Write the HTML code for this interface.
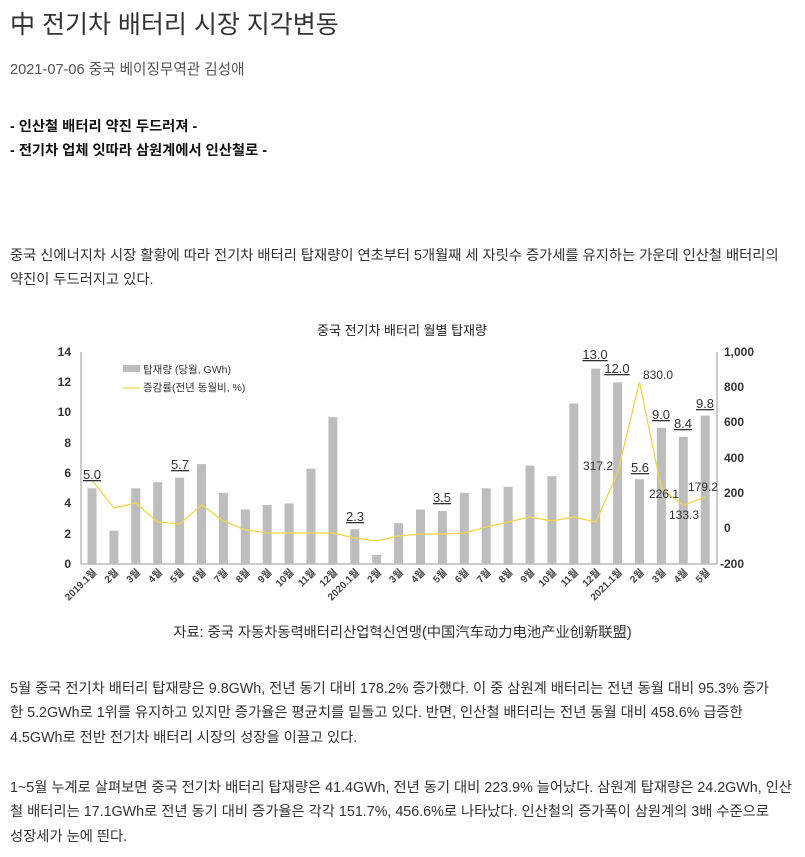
<!DOCTYPE html><html><head><meta charset="utf-8"><style>
body{margin:0;width:805px;height:857px;background:#fff;position:relative;font-family:"Liberation Sans","Noto Sans CJK KR",sans-serif;overflow:hidden}
.t{position:absolute;left:10px;white-space:nowrap;font-size:14.3px;color:#333}
</style></head><body>
<div class="t" style="top:5px;font-size:25px;color:#333">中 전기차 배터리 시장 지각변동</div>
<div class="t" style="top:58px;font-size:14.6px;color:#555">2021-07-06 중국 베이징무역관 김성애</div>
<div class="t" style="top:115px;font-weight:bold;color:#111">- 인산철 배터리 약진 두드러져 -</div>
<div class="t" style="top:139px;font-weight:bold;color:#111">- 전기차 업체 잇따라 삼원계에서 인산철로 -</div>
<div class="t" style="top:244px">중국 신에너지차 시장 활황에 따라 전기차 배터리 탑재량이 연초부터 5개월째 세 자릿수 증가세를 유지하는 가운데 인산철 배터리의</div>
<div class="t" style="top:268px">약진이 두드러지고 있다.</div>
<div class="t" style="top:621px;left:0;width:805px;text-align:center">자료: 중국 자동차동력배터리산업혁신연맹(中国汽车动力电池产业创新联盟)</div>
<div class="t" style="top:677px">5월 중국 전기차 배터리 탑재량은 9.8GWh, 전년 동기 대비 178.2% 증가했다. 이 중 삼원계 배터리는 전년 동월 대비 95.3% 증가</div>
<div class="t" style="top:701px">한 5.2GWh로 1위를 유지하고 있지만 증가율은 평균치를 밑돌고 있다. 반면, 인산철 배터리는 전년 동월 대비 458.6% 급증한</div>
<div class="t" style="top:726px">4.5GWh로 전반 전기차 배터리 시장의 성장을 이끌고 있다.</div>
<div class="t" style="top:776px">1~5월 누계로 살펴보면 중국 전기차 배터리 탑재량은 41.4GWh, 전년 동기 대비 223.9% 늘어났다. 삼원계 탑재량은 24.2GWh, 인산</div>
<div class="t" style="top:800px">철 배터리는 17.1GWh로 전년 동기 대비 증가율은 각각 151.7%, 456.6%로 나타났다. 인산철의 증가폭이 삼원계의 3배 수준으로</div>
<div class="t" style="top:825px">성장세가 눈에 띈다.</div>
<svg width="805" height="857" style="position:absolute;left:0;top:0" font-family="Liberation Sans, Noto Sans CJK KR, sans-serif">
<text x="402" y="335" font-size="13" text-anchor="middle" fill="#222">중국 전기차 배터리 월별 탑재량</text>
<g stroke="#999" stroke-width="1">
<line x1="81" y1="352" x2="81" y2="564"/><line x1="81" y1="564" x2="717" y2="564"/><line x1="717" y1="352" x2="717" y2="564"/>
</g>
<g font-size="12" font-weight="600" fill="#333" text-anchor="end">
<text x="71" y="356">14</text><text x="71" y="386">12</text><text x="71" y="416">10</text><text x="71" y="447">8</text><text x="71" y="477">6</text><text x="71" y="507">4</text><text x="71" y="538">2</text><text x="71" y="568">0</text>
</g>
<g font-size="12" font-weight="600" fill="#333">
<text x="724" y="356">1,000</text><text x="724" y="391">800</text><text x="724" y="426">600</text><text x="724" y="462">400</text><text x="724" y="497">200</text><text x="724" y="532">0</text><text x="720" y="568">-200</text>
</g>
<g fill="#bdbdbd" id="bars"></g>
<rect x="123" y="365" width="17" height="7" fill="#bdbdbd"/>
<text x="143" y="373" font-size="10.5" fill="#333">탑재량 (당월, GWh)</text>
<line x1="123" y1="388" x2="140" y2="388" stroke="#f5d547" stroke-width="1.3"/>
<text x="143" y="391" font-size="10.5" fill="#333">증감률(전년 동월비, %)</text>
<polyline id="ln" fill="none" stroke="#f5d547" stroke-width="1.3"/>
<g id="xl" font-size="10" font-weight="bold" fill="#444"></g>
<g font-size="13" fill="#333" text-anchor="middle" text-decoration="underline">
<text x="92" y="479">5.0</text><text x="180" y="469">5.7</text><text x="355" y="521">2.3</text><text x="442" y="502">3.5</text>
<text x="595" y="359">13.0</text><text x="617" y="373">12.0</text><text x="640" y="472">5.6</text><text x="661" y="419">9.0</text><text x="683" y="428">8.4</text><text x="705" y="408">9.8</text>
</g>
<g font-size="12" fill="#333" text-anchor="middle">
<text x="658" y="379">830.0</text><text x="598" y="470">317.2</text><text x="664" y="498">226.1</text><text x="684" y="519">133.3</text><text x="703" y="491">179.2</text>
</g>
</svg>
<script>
var V=[5.0,2.2,5.0,5.4,5.7,6.6,4.7,3.6,3.9,4.0,6.3,9.7,2.3,0.6,2.7,3.6,3.5,4.7,5.0,5.1,6.5,5.8,10.6,12.9,12.0,5.6,9.0,8.4,9.8];
var L=[480,508,503,522,524,505,521,530,533,533,533,533,538,541,536,534,534,533,527,522,517,521,517,522,472.7,382,488.7,505.1,497];
var N=["2019.1월","2월","3월","4월","5월","6월","7월","8월","9월","10월","11월","12월","2020.1월","2월","3월","4월","5월","6월","7월","8월","9월","10월","11월","12월","2021.1월","2월","3월","4월","5월"];
var ns="http://www.w3.org/2000/svg",b=document.getElementById("bars"),xl=document.getElementById("xl"),pts=[];
for(var i=0;i<29;i++){var x=92+21.9*i,h=V[i]*15.14;
var r=document.createElementNS(ns,"rect");r.setAttribute("x",x-4.5);r.setAttribute("y",564-h);r.setAttribute("width",9);r.setAttribute("height",h);b.appendChild(r);
var t=document.createElementNS(ns,"text");t.setAttribute("text-anchor","end");t.setAttribute("transform","translate("+(x+5)+",573) rotate(-45)");t.textContent=N[i];xl.appendChild(t);
pts.push(x+","+L[i]);}
document.getElementById("ln").setAttribute("points",pts.join(" "));
</script>
</body></html>
